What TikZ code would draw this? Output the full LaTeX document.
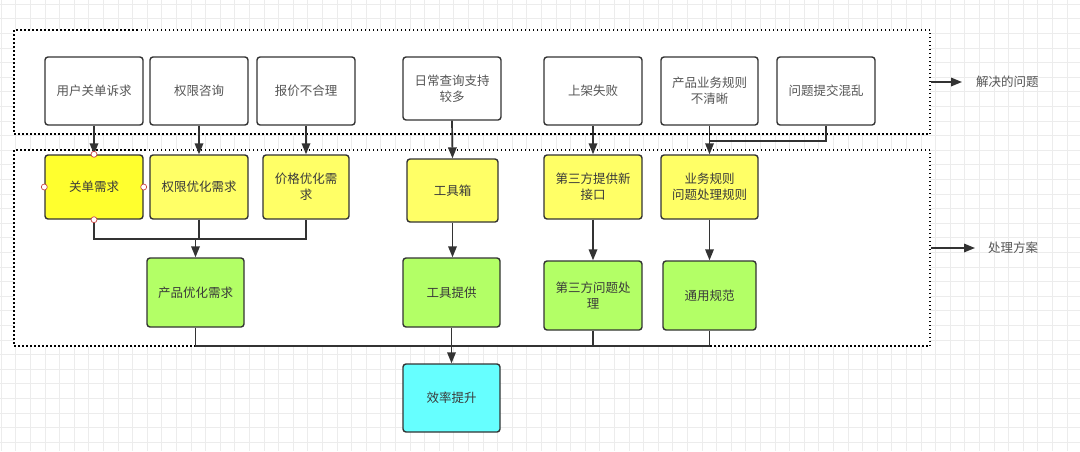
\documentclass[tikz,border=0pt]{standalone}
\usepackage{fontspec}
\setmainfont{Noto Sans CJK SC}
\usetikzlibrary{arrows.meta}
\definecolor{bord}{HTML}{333333}
\definecolor{yel}{HTML}{FFFF66}
\definecolor{yelsel}{HTML}{FFFF2E}
\definecolor{grn}{HTML}{B3FF66}
\definecolor{cyn}{HTML}{66FFFF}
\definecolor{txtgray}{HTML}{555555}
\definecolor{txtdark}{HTML}{3A3A3A}
\definecolor{gridc}{HTML}{ECECEC}
\definecolor{ptred}{HTML}{C84545}
\tikzset{
  box/.style={draw=bord, line width=1.4pt, rounded corners=3pt, align=center,
    font=\fontsize{12.5pt}{16pt}\selectfont, inner sep=2pt},
  wbox/.style={box, fill=white, text=txtgray},
  ybox/.style={box, fill=yel, text=txtdark},
  gbox/.style={box, fill=grn, text=txtdark},
  cbox/.style={box, fill=cyn, text=txtdark},
  region/.style={draw=black, line width=1.5pt, dash pattern=on 1.5pt off 2.5pt, fill=white,
    minimum width=916pt, inner sep=0pt},
  lbl/.style={text=txtgray, font=\fontsize{12.5pt}{16pt}\selectfont, inner sep=0pt},
  arr/.style={draw=bord, line width=1.7pt, -{Triangle[length=11pt,width=8.5pt]}},
  ln/.style={draw=bord, line width=1.7pt},
  cpt/.style={circle, draw=ptred, fill=white, line width=0.7pt, minimum size=6pt, inner sep=0pt}
}
\begin{document}
\begin{tikzpicture}[x=1pt, y=-1pt]
\useasboundingbox (0,0) rectangle (1080,451);
\fill[white] (0,0) rectangle (1080,451);
% background grid
\foreach \i in {0,...,73} \draw[gridc, line width=0.6pt] (1+\i*14.6,0) -- (1+\i*14.6,451);
\foreach \j in {0,...,30} \draw[gridc, line width=0.6pt] (0,4+\j*14.6) -- (1080,4+\j*14.6);

% regions
\node[region, minimum height=104pt] (p1) at (472,82) {};
\node[region, minimum height=196pt] (p2) at (472,248) {};

% top row: problems
\node[wbox, minimum width=98pt, minimum height=68pt] (u1) at (94,91) {用户关单诉求};
\node[wbox, minimum width=98pt, minimum height=68pt] (u2) at (199,91) {权限咨询};
\node[wbox, minimum width=98pt, minimum height=68pt] (u3) at (306,91) {报价不合理};
\node[wbox, minimum width=98pt, minimum height=63pt] (u4) at (452,88.5) {日常查询支持\\较多};
\node[wbox, minimum width=98pt, minimum height=68pt] (u5) at (593,91) {上架失败};
\node[wbox, minimum width=97pt, minimum height=68pt] (u6) at (709.5,91) {产品业务规则\\不清晰};
\node[wbox, minimum width=98pt, minimum height=68pt] (u7) at (826,91) {问题提交混乱};

% second row: needs
\node[ybox, fill=yelsel, minimum width=98pt, minimum height=64pt] (y1) at (94,187) {关单需求};
\node[ybox, minimum width=98pt, minimum height=64pt] (y2) at (199,187) {权限优化需求};
\node[ybox, minimum width=86pt, minimum height=64pt] (y3) at (306,187) {价格优化需\\求};
\node[ybox, minimum width=91pt, minimum height=63pt] (y4) at (452.5,190.5) {工具箱};
\node[ybox, minimum width=98pt, minimum height=64pt] (y5) at (593,187) {第三方提供新\\接口};
\node[ybox, minimum width=97pt, minimum height=64pt] (y6) at (709.5,187) {业务规则\\问题处理规则};

% third row: solutions
\node[gbox, minimum width=97pt, minimum height=69pt] (g1) at (195.5,292.5) {产品优化需求};
\node[gbox, minimum width=97pt, minimum height=69pt] (g2) at (451.5,292.5) {工具提供};
\node[gbox, minimum width=98pt, minimum height=69pt] (g3) at (593,295.5) {第三方问题处\\理};
\node[gbox, minimum width=93pt, minimum height=69pt] (g4) at (709.5,295.5) {通用规范};

% result
\node[cbox, minimum width=97pt, minimum height=68pt] (e) at (451.5,398) {效率提升};

% side labels
\node[lbl, anchor=west] (l1) at (976,82) {解决的问题};
\node[lbl, anchor=west] (l2) at (988,248) {处理方案};
\draw[arr] (p1.east) -- ([xshift=-14pt]l1.west);
\draw[arr] (p2.east) -- ([xshift=-13pt]l2.west);

% problem -> need
\draw[arr] (u1.south) -- (y1.north);
\draw[arr] (u2.south) -- (y2.north);
\draw[arr] (u3.south) -- (y3.north);
\draw[arr] (u4.south) -- (y4.north);
\draw[arr] (u5.south) -- (y5.north);
\draw[arr] (u6.south) -- (y6.north);
\coordinate (m7) at (826,141);
\draw[ln] (u7.south) -- (m7) -- (u6.south |- m7);

% need -> solution
\coordinate (bus1) at (0,239);
\draw[ln] (y1.south) -- (y1.south |- bus1) -- (y3.south |- bus1) -- (y3.south);
\draw[ln] (y2.south) -- (y2.south |- bus1);
\draw[arr] (g1.north |- bus1) -- (g1.north);
\draw[arr] (y4.south) -- (g2.north -| y4.south);
\draw[arr] (y5.south) -- (g3.north);
\draw[arr] (y6.south) -- (g4.north);

% solution -> result
\coordinate (bus2) at (0,346);
\draw[ln] (g1.south) -- (g1.south |- bus2) -- (g4.south |- bus2) -- (g4.south);
\draw[ln] (g3.south) -- (g3.south |- bus2);
\draw[arr] (g2.south) -- (e.north);

% connection points on the selected node
\node[cpt] (c1) at (y1.north) {};
\node[cpt] (c2) at (y1.south) {};
\node[cpt] (c3) at (y1.west) {};
\node[cpt] (c4) at (y1.east) {};
\end{tikzpicture}
\end{document}
